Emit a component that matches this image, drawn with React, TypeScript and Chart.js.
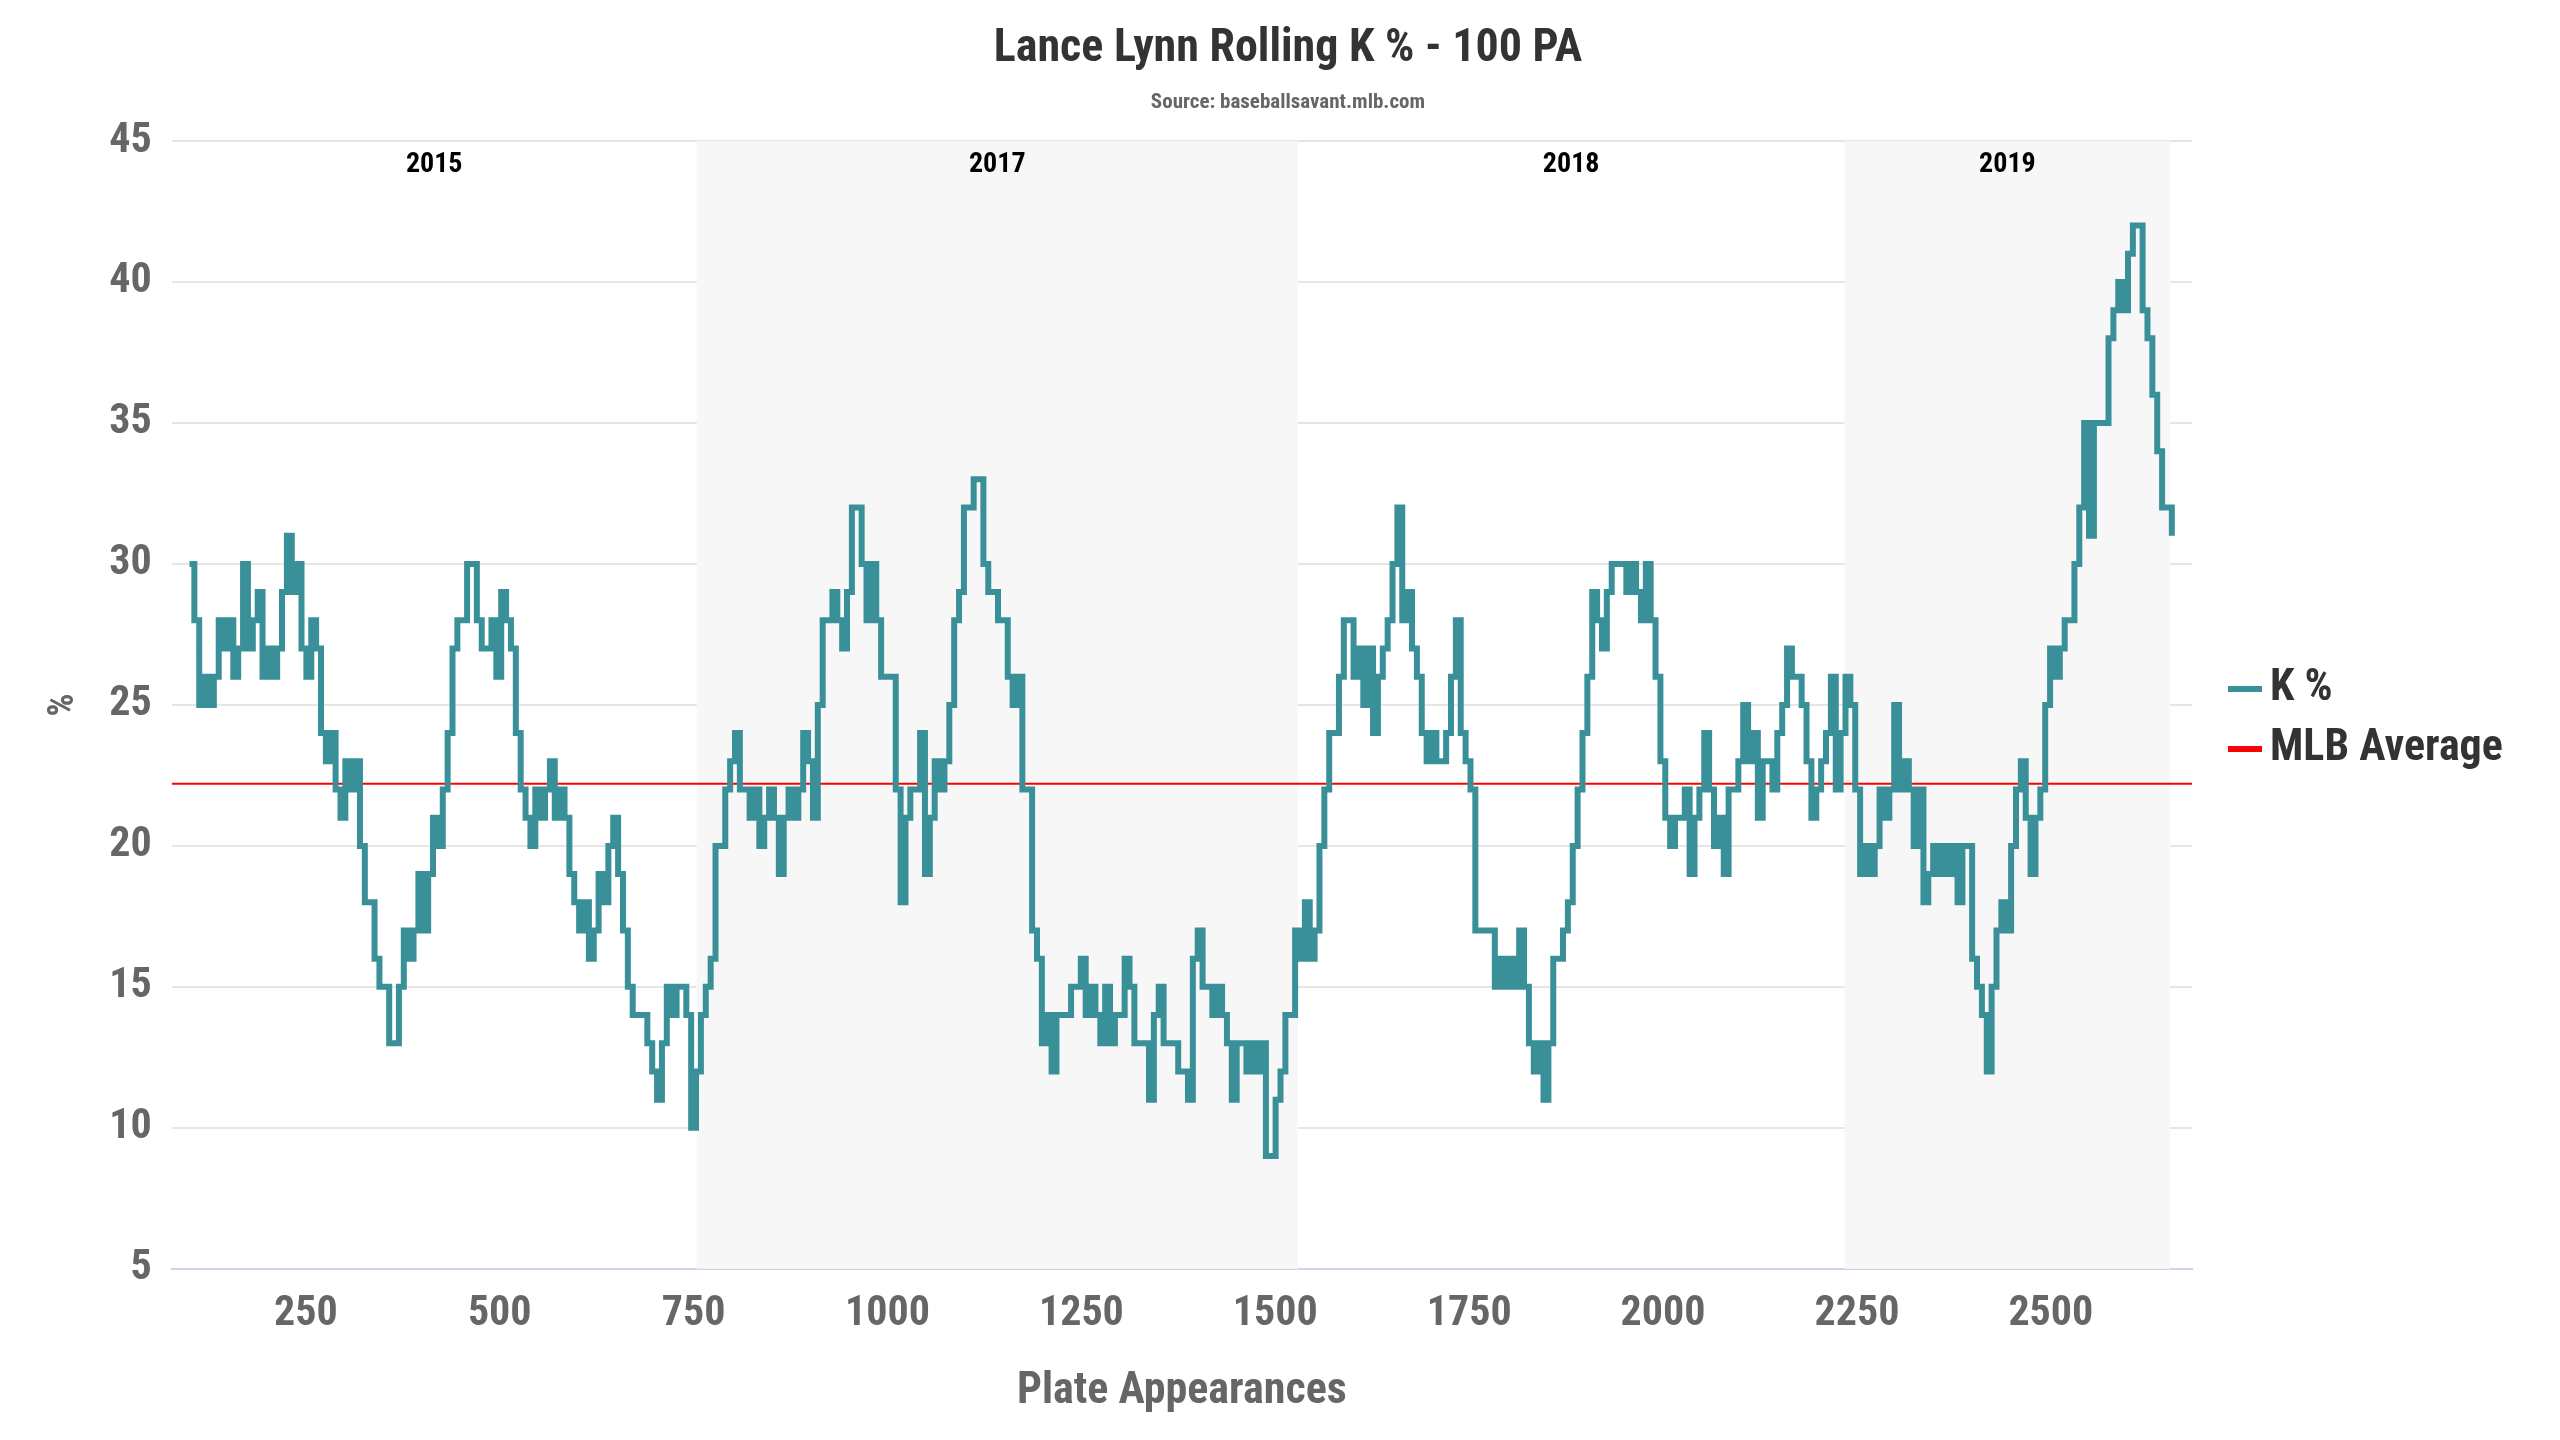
import React, { useEffect, useRef } from "react";
import { Chart, registerables } from "chart.js";
Chart.register(...registerables);

const paStart = 100;
const paEnd = 2656;
const kValues = [30,28,25,26,25,26,28,27,28,26,27,30,27,28,29,26,27,26,27,29,31,29,30,27,26,28,27,24,23,24,22,21,23,22,23,20,18,18,16,15,15,13,13,15,17,16,17,19,17,19,21,20,22,24,27,28,28,30,30,28,27,27,28,26,29,28,27,24,22,21,20,22,21,22,23,21,22,21,19,18,17,18,16,17,19,18,20,21,19,17,15,14,14,14,13,12,11,13,15,14,15,15,14,10,12,14,15,16,20,20,22,23,24,22,22,21,22,20,21,22,21,19,21,22,21,22,24,23,21,25,28,28,29,28,27,29,32,32,30,28,30,28,26,26,26,22,18,21,22,22,24,19,21,23,22,23,25,28,29,32,32,33,33,30,29,29,28,28,26,25,26,22,22,17,16,13,14,12,14,14,14,15,15,16,14,15,14,13,15,13,14,14,16,15,13,13,13,11,14,15,13,13,13,12,12,11,16,17,15,15,14,15,14,13,11,13,13,12,13,12,13,9,9,11,12,14,14,17,16,18,16,17,20,22,24,24,26,28,28,26,27,25,27,24,26,27,28,30,32,28,29,27,26,24,23,24,23,23,24,26,28,24,23,22,17,17,17,17,15,16,15,16,15,17,15,13,12,13,11,13,16,16,17,18,20,22,24,26,29,28,27,29,30,30,30,29,30,29,28,30,28,26,23,21,20,21,21,22,19,21,22,24,22,20,21,19,22,22,23,25,23,24,21,23,23,22,24,25,27,26,26,25,23,21,22,23,24,26,22,24,26,25,22,19,20,19,20,22,21,22,25,22,23,22,20,22,18,19,20,19,20,19,20,18,20,20,16,15,14,12,15,17,18,17,20,22,23,21,19,21,22,25,27,26,27,28,28,30,32,35,31,35,35,35,38,39,40,39,41,42,42,39,38,36,34,32,32,31];
const mlbAverage = 22.2;
const yearBands = [
  { label: "2015", from: 77, to: 754, shade: false },
  { label: "2017", from: 754, to: 1529, shade: true },
  { label: "2018", from: 1529, to: 2234, shade: false },
  { label: "2019", from: 2234, to: 2654, shade: true },
];
const xTicks = [250, 500, 750, 1000, 1250, 1500, 1750, 2000, 2250, 2500];
const legendItems = [
  { label: "K %", color: "#3a9098" },
  { label: "MLB Average", color: "#ff0000" },
];
const titleText = "Lance Lynn Rolling K % - 100 PA";
const subtitleText = "Source: baseballsavant.mlb.com";

const FONT = "'Roboto Condensed', 'Liberation Sans Narrow', Roboto, sans-serif";

export default function App() {
  const ref = useRef<HTMLCanvasElement>(null);
  useEffect(() => {
    const n = kValues.length;
    const pts = kValues.map((v, i) => ({ x: paStart + (i * (paEnd - paStart)) / (n - 1), y: v }));
    const bandPlugin = {
      id: "bands",
      beforeDatasetsDraw(chart: any) {
        const { ctx, chartArea, scales } = chart;
        ctx.save();
        for (const b of yearBands) {
          const x1 = Math.max(scales.x.getPixelForValue(b.from), chartArea.left);
          const x2 = Math.min(scales.x.getPixelForValue(b.to), chartArea.right);
          if (b.shade) {
            ctx.fillStyle = "#f7f7f7";
            ctx.fillRect(x1, chartArea.top, x2 - x1, chartArea.bottom - chartArea.top);
          }
          ctx.fillStyle = "#000";
          ctx.font = `bold 28px ${FONT}`;
          ctx.textAlign = "center";
          ctx.textBaseline = "top";
          ctx.fillText(b.label, (x1 + x2) / 2, chartArea.top + 10);
        }
        ctx.restore();
      },
      afterDraw(chart: any) {
        const { ctx, chartArea, width } = chart;
        ctx.save();
        ctx.textAlign = "center";
        ctx.textBaseline = "middle";
        ctx.fillStyle = "#333";
        ctx.font = `bold 46px ${FONT}`;
        ctx.fillText(titleText, width / 2 + 8, 41);
        ctx.fillStyle = "#666";
        ctx.font = `bold 21px ${FONT}`;
        ctx.fillText(subtitleText, width / 2 + 8, 95);
        const x0 = chartArea.right + 36;
        const yMid = (chartArea.top + chartArea.bottom) / 2;
        const gap = 60;
        legendItems.forEach((it, i) => {
          const y = yMid - gap / 2 + i * gap + 14;
          ctx.strokeStyle = it.color;
          ctx.lineWidth = 6;
          ctx.beginPath();
          ctx.moveTo(x0, y);
          ctx.lineTo(x0 + 34, y);
          ctx.stroke();
          ctx.fillStyle = "#333";
          ctx.font = `bold 44px ${FONT}`;
          ctx.textAlign = "left";
          ctx.fillText(it.label, x0 + 42, y);
        });
        ctx.restore();
      },
    };
    const chart = new Chart(ref.current!, {
      type: "line",
      data: {
        datasets: [
          { label: "K %", data: pts, borderColor: "#3a9098", borderWidth: 6, pointRadius: 0, stepped: true },
          { label: "MLB Average", data: [{ x: 77, y: mlbAverage }, { x: 2682, y: mlbAverage }], borderColor: "#ff0000", borderWidth: 2, pointRadius: 0 },
        ],
      },
      options: {
        animation: false,
        responsive: true,
        maintainAspectRatio: false,
        layout: { padding: { top: 133, left: 30, right: 360, bottom: 10 } },
        plugins: {
          title: { display: false },
          legend: { display: false },
          tooltip: { enabled: false },
        },
        scales: {
          x: {
            type: "linear",
            min: 77,
            max: 2682,
            afterBuildTicks: (axis: any) => { axis.ticks = xTicks.map((v) => ({ value: v })); },
            grid: { display: false, drawTicks: true, tickLength: 14, tickColor: "#ccd6eb" },
            border: { color: "#ccd6eb", width: 2 },
            ticks: { color: "#666", font: { family: FONT, size: 42, weight: "bold" }, padding: 6, callback: (v: any) => String(v) },
            title: { display: true, text: "Plate Appearances", color: "#666", font: { family: FONT, size: 44, weight: "bold" }, padding: { top: 20 } },
          },
          y: {
            min: 5,
            max: 45,
            ticks: { stepSize: 5, color: "#666", font: { family: FONT, size: 42, weight: "bold" }, padding: 20 },
            grid: { color: "#e6e6e6", lineWidth: 2, drawTicks: false },
            border: { display: false },
            title: { display: true, text: "%", color: "#666", font: { family: FONT, size: 36, weight: "bold" } },
          },
        },
      },
      plugins: [bandPlugin],
    } as any);
    return () => chart.destroy();
  }, []);
  return (
    <div style={{ width: 2544, height: 1424, position: "relative" }}>
      <canvas ref={ref} />
    </div>
  );
}
